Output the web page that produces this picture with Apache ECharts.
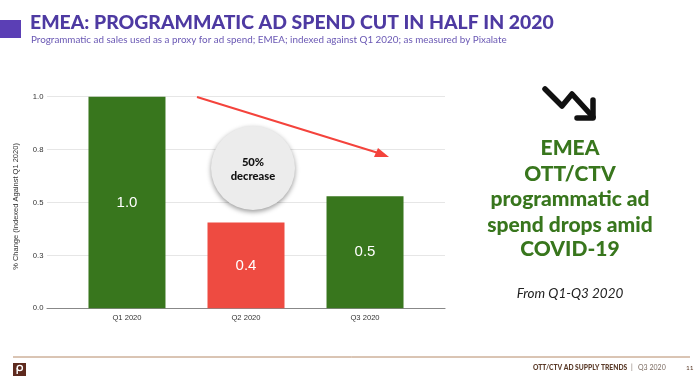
<!DOCTYPE html>
<html>
<head>
<meta charset="utf-8">
<style>html,body{margin:0;padding:0;background:#fff}#main{width:700px;height:380px}</style>
<script src="https://cdn.jsdelivr.net/npm/echarts@6/dist/echarts.min.js"></script>
</head>
<body>
<div id="main"></div>
<script>
var categories = ['Q1 2020', 'Q2 2020', 'Q3 2020'];
var spendIndex = [1.0, 0.405, 0.53];
var barLabels = ['1.0', '0.4', '0.5'];
var barColors = ['#38761d', '#ee4b41', '#38761d'];
var sideText = ['EMEA', 'OTT/CTV', 'programmatic ad', 'spend drops amid', 'COVID-19'];

var headFont = 'Lato';
var axisFont = 'Liberation Sans';
var green = '#38761d';
var purple = '#4e3aa2';

var myChart = echarts.init(document.getElementById('main'), null, {renderer: 'canvas'});

var sideLines = sideText.map(function (t, i) {
    return {
        type: 'text',
        x: 570,
        y: [148, 174, 199, 225, 249][i],
        style: {text: t, fill: green, font: '900 21px ' + headFont, textAlign: 'center', textVerticalAlign: 'middle'}
    };
});

var option = {
    animation: false,
    backgroundColor: '#fff',
    title: [{
        text: 'EMEA: PROGRAMMATIC AD SPEND CUT IN HALF IN 2020',
        left: 30,
        top: 13,
        padding: 0,
        textStyle: {color: purple, fontFamily: headFont, fontWeight: 900, fontSize: 19.4}
    }, {
        text: 'Programmatic ad sales used as a proxy for ad spend; EMEA; indexed against Q1 2020; as measured by Pixalate',
        left: 31,
        top: 35,
        padding: 0,
        textStyle: {color: '#6a58b4', fontFamily: headFont, fontWeight: 'normal', fontSize: 9.85}
    }],
    grid: {left: 47, right: 255, top: 96.7, bottom: 71.7},
    // bars are not evenly spread over the plot width, so the bar centres sit on a value axis
    xAxis: {
        type: 'value',
        min: -0.672,
        max: 2.672,
        splitLine: {show: false},
        axisTick: {show: false},
        axisLine: {show: true, lineStyle: {color: '#888', width: 1.2}},
        axisLabel: {
            color: '#333',
            fontFamily: axisFont,
            fontSize: 7.6,
            margin: 5.5,
            customValues: [0, 1, 2],
            formatter: function (v) { return categories[v]; }
        }
    },
    yAxis: {
        type: 'value',
        min: 0,
        max: 1,
        interval: 0.25,
        name: '% Change (Indexed Against Q1 2020)',
        nameLocation: 'middle',
        nameGap: 27,
        nameTextStyle: {color: '#333', fontFamily: axisFont, fontSize: 7.5, padding: [0, 8, 0, 0]},
        axisLine: {show: false},
        axisTick: {show: false},
        splitLine: {lineStyle: {color: '#e6e6e6', width: 1.2}},
        axisLabel: {
            color: '#333',
            fontFamily: axisFont,
            fontSize: 7.7,
            margin: 3.5,
            formatter: function (v) { return v.toFixed(1); }
        }
    },
    series: [{
        type: 'bar',
        barWidth: 77,
        data: spendIndex.map(function (v, i) {
            return {value: [i, v], itemStyle: {color: barColors[i]}};
        }),
        label: {
            show: true,
            position: 'inside',
            color: '#fff',
            fontFamily: axisFont,
            fontSize: 15,
            formatter: function (p) { return barLabels[p.dataIndex]; }
        }
    }],
    graphic: [
        // purple marker next to the heading
        {type: 'rect', shape: {x: 0, y: 20, width: 21, height: 18}, style: {fill: '#5b3fb5'}},
        // red trend arrow
        {type: 'line', z: 10, shape: {x1: 197, y1: 97, x2: 380, y2: 153.5}, style: {stroke: '#f4433c', lineWidth: 2}},
        {type: 'polygon', z: 10, shape: {points: [[389, 157], [374, 157], [378, 148]]}, style: {fill: '#f4433c'}},
        // 50% decrease bubble
        {
            type: 'circle',
            z: 11,
            shape: {cx: 253, cy: 168, r: 42},
            style: {fill: '#ececec', shadowBlur: 5, shadowOffsetY: 2, shadowColor: 'rgba(0,0,0,0.4)'}
        },
        {
            type: 'text',
            z: 12,
            x: 253,
            y: 169,
            style: {
                text: '50%\ndecrease',
                fill: '#111',
                font: '900 11.2px ' + headFont,
                lineHeight: 14,
                textAlign: 'center',
                textVerticalAlign: 'middle'
            }
        },
        // zigzag down arrow
        {
            type: 'polyline',
            shape: {points: [[545, 89], [562, 106], [572, 94], [593, 117]]},
            style: {stroke: '#111', lineWidth: 5.5, fill: null, lineCap: 'round', lineJoin: 'round'}
        },
        {
            type: 'polyline',
            shape: {points: [[593, 100], [593, 118], [577, 118]]},
            style: {stroke: '#111', lineWidth: 5.5, fill: null, lineCap: 'round', lineJoin: 'round'}
        },
        {
            type: 'text',
            x: 570,
            y: 294,
            style: {text: 'From Q1-Q3 2020', fill: '#222', font: 'italic 13.5px ' + headFont, textAlign: 'center', textVerticalAlign: 'middle'}
        },
        // footer
        {type: 'line', shape: {x1: 13, y1: 357, x2: 690, y2: 357}, style: {stroke: '#b58a68', lineWidth: 1}},
        {type: 'rect', shape: {x: 13, y: 363, width: 13, height: 13}, style: {fill: '#5e2a1e'}},
        {type: 'circle', shape: {cx: 19.8, cy: 368, r: 2.6}, style: {fill: 'none', stroke: '#fff', lineWidth: 1.4}},
        {type: 'line', shape: {x1: 17.2, y1: 368, x2: 17.2, y2: 374}, style: {stroke: '#fff', lineWidth: 1.4}},
        {type: 'text', x: 533, y: 368, style: {text: 'OTT/CTV AD SUPPLY TRENDS', fill: '#5a3a28', font: '900 6.7px ' + headFont, textVerticalAlign: 'middle'}},
        {type: 'text', x: 631, y: 368, style: {text: '|', fill: '#7a6a60', font: '7px ' + headFont, textVerticalAlign: 'middle'}},
        {type: 'text', x: 638, y: 368, style: {text: 'Q3 2020', fill: '#7a6a60', font: '7px ' + headFont, textVerticalAlign: 'middle'}},
        {type: 'text', x: 686, y: 368, style: {text: '11', fill: '#5a3a28', font: '6.5px ' + headFont, textVerticalAlign: 'middle'}}
    ].concat(sideLines)
};
myChart.setOption(option);
</script>
</body>
</html>
